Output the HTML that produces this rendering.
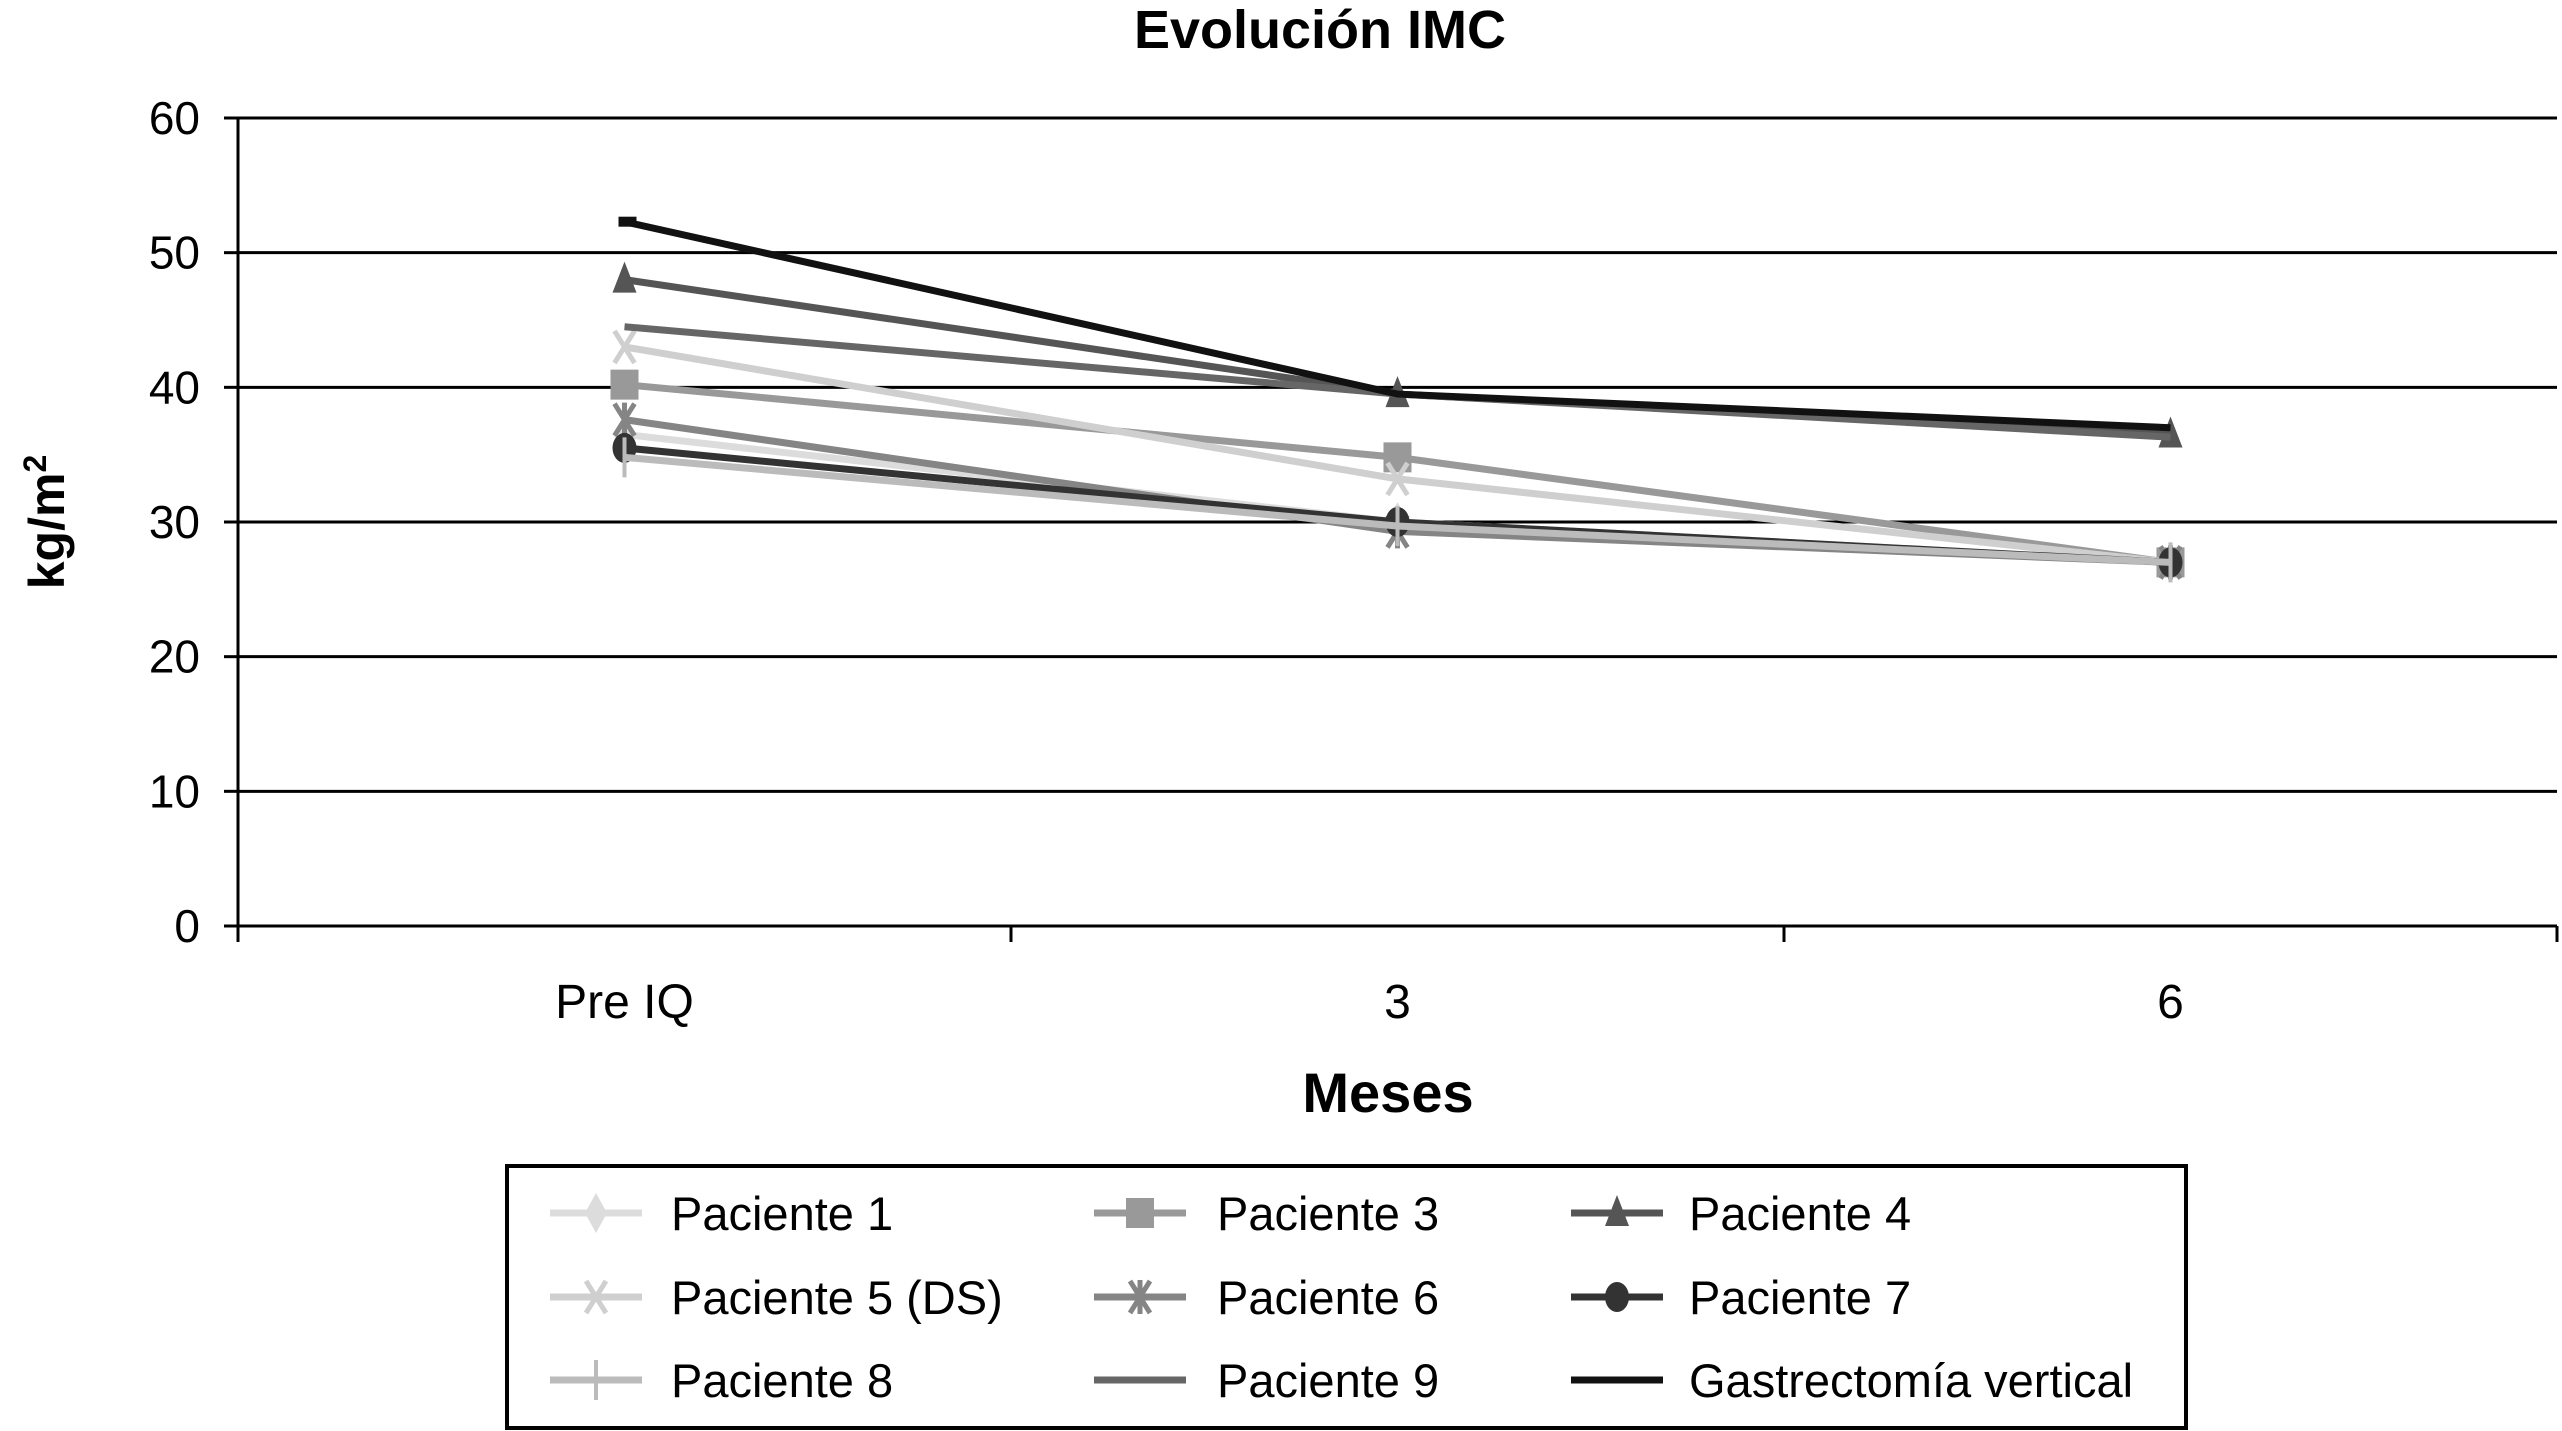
<!DOCTYPE html>
<html><head><meta charset="utf-8"><style>
html,body{margin:0;padding:0;background:#fff;}
svg{display:block;font-family:"Liberation Sans",sans-serif;}
</style></head><body>
<svg id="chart" width="2562" height="1431" viewBox="0 0 2562 1431">
<text x="1320" y="48" font-size="54" font-weight="bold" text-anchor="middle">Evolución IMC</text>
<g id="grid"></g>
<g id="axes"></g>
<g id="series"></g>
<text x="1388" y="1112" font-size="56" font-weight="bold" text-anchor="middle">Meses</text>
<text transform="translate(64,522) rotate(-90)" font-size="50" font-weight="bold" text-anchor="middle">kg/m<tspan font-size="32" dy="-18">2</tspan></text>
<rect x="507" y="1166" width="1679" height="262" fill="#fff" stroke="#000" stroke-width="4"/>
<g id="legend"></g>
</svg>
<script>
const categories = ["Pre IQ", "3", "6"];
const yTicks = [0, 10, 20, 30, 40, 50, 60];
const seriesNames = ["Paciente 1","Paciente 3","Paciente 4","Paciente 5 (DS)","Paciente 6","Paciente 7","Paciente 8","Paciente 9","Gastrectomía vertical"];
const p1 = [36.5, 30.0, 27.0];
const p3 = [40.2, 34.8, 27.0];
const p4 = [48.0, 39.5, 36.5];
const p5 = [43.0, 33.2, 27.0];
const p6 = [37.6, 29.3, 27.0];
const p7 = [35.5, 30.0, 27.0];
const p8 = [34.8, 29.7, 27.0];
const p9 = [44.5, 39.5, 36.3];
const gv = [52.3, 39.5, 37.0];

const NS = "http://www.w3.org/2000/svg";
const L = 238, R = 2557, T = 118, B = 926;
const yMin = 0, yMax = 60;
function yScale(v){ return B - (v - yMin) / (yMax - yMin) * (B - T); }
function xScale(i){ const w = (R - L) / categories.length; return L + (i + 0.5) * w; }
function mk(tag, attrs, parent){ const e = document.createElementNS(NS, tag); for (const k in attrs) e.setAttribute(k, attrs[k]); parent.appendChild(e); return e; }

const grid = document.getElementById('grid');
const axes = document.getElementById('axes');
yTicks.forEach(t => {
  const y = yScale(t);
  if (t > 0) {
    const g = mk('line', {x1: L, x2: R, y1: y, y2: y, stroke: '#000', 'stroke-width': 3}, grid);
    
    
  }
  const tk = mk('line', {x1: L - 14, x2: L, y1: y, y2: y, stroke: '#000', 'stroke-width': 3}, axes);
  
  
  const lb = mk('text', {x: 200, y: y + 16, 'font-size': 46, 'text-anchor': 'end'}, axes);
  lb.textContent = t;
  
  
});
const ya = mk('line', {x1: L, x2: L, y1: T, y2: B + 14, stroke: '#000', 'stroke-width': 3}, axes);


const xa = mk('line', {x1: L, x2: R, y1: B, y2: B, stroke: '#000', 'stroke-width': 3}, axes);


for (let i = 0; i <= categories.length; i++) {
  const x = L + i * (R - L) / categories.length;
  const tk = mk('line', {x1: x, x2: x, y1: B, y2: B + 16, stroke: '#000', 'stroke-width': 3}, axes);
  
  
}
categories.forEach((c, i) => {
  const lb = mk('text', {x: xScale(i), y: 1018, 'font-size': 48, 'text-anchor': 'middle'}, axes);
  lb.textContent = c;
  
  
});

const seriesData = [p1, p3, p4, p5, p6, p7, p8, p9, gv];
const colors = ['#dcdcdc','#999','#555','#cfcfcf','#858585','#333','#bbb','#666','#111'];
const markers = ['diamond','square','triangle','x','star','circle','plus','none','dash'];
function drawMarker(type, x, y, color, parent){
  let e = null;
  if (type === 'diamond') e = mk('polygon', {points: `${x},${y-20} ${x+11},${y} ${x},${y+20} ${x-11},${y}`, fill: color}, parent);
  else if (type === 'square') e = mk('rect', {x: x-14, y: y-15, width: 28, height: 30, fill: color}, parent);
  else if (type === 'triangle') e = mk('polygon', {points: `${x},${y-18} ${x+12},${y+13} ${x-12},${y+13}`, fill: color}, parent);
  else if (type === 'circle') e = mk('ellipse', {cx: x, cy: y, rx: 12, ry: 15, fill: color}, parent);
  else if (type === 'x') e = mk('path', {d: `M${x-10},${y-16}L${x+10},${y+16}M${x+10},${y-16}L${x-10},${y+16}`, stroke: color, 'stroke-width': 5, fill: 'none'}, parent);
  else if (type === 'star') e = mk('path', {d: `M${x-10},${y-16}L${x+10},${y+16}M${x+10},${y-16}L${x-10},${y+16}M${x},${y-17}L${x},${y+17}`, stroke: color, 'stroke-width': 5, fill: 'none'}, parent);
  else if (type === 'plus') e = mk('path', {d: `M${x},${y-20}L${x},${y+20}`, stroke: color, 'stroke-width': 4, fill: 'none'}, parent);
  else if (type === 'dash') e = mk('rect', {x: x-6, y: y-5, width: 18, height: 10, fill: color}, parent);
  if (e) {
    
    
  }
}
const sg = document.getElementById('series');
seriesData.forEach((vals, s) => {
  const g = mk('g', {}, sg);
  
  
  const pts = vals.map((v, i) => xScale(i) + ',' + yScale(v)).join(' ');
  const pl = mk('polyline', {points: pts, fill: 'none', stroke: colors[s], 'stroke-width': 7}, g);
  
  
  vals.forEach((v, i) => { if (!(markers[s] === 'dash' && i > 0)) drawMarker(markers[s], xScale(i), yScale(v), colors[s], g); });
});

const lg = document.getElementById('legend');
const colX = [596, 1140, 1617], textX = [671, 1217, 1689], rowY = [1213, 1297, 1380];
seriesNames.forEach((n, s) => {
  const c = s % 3, r = Math.floor(s / 3);
  const g = mk('g', {}, lg);
  
  
  const ln = mk('line', {x1: colX[c] - 46, x2: colX[c] + 46, y1: rowY[r], y2: rowY[r], stroke: colors[s], 'stroke-width': 7}, g);
  
  
  if (markers[s] !== 'dash') drawMarker(markers[s], colX[c], rowY[r], colors[s], g);
  const t = mk('text', {x: textX[c], y: rowY[r] + 17, 'font-size': 47}, g);
  t.textContent = n;
  
  
});
</script>
</body></html>
